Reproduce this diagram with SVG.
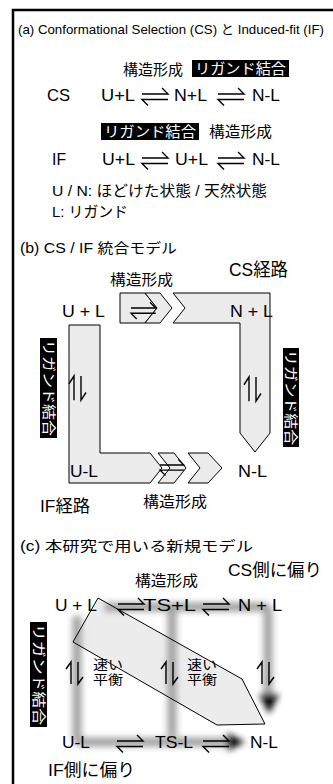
<svg xmlns="http://www.w3.org/2000/svg" width="333" height="784" viewBox="0 0 333 784">
<style>
.t{font-family:"Liberation Sans","Noto Sans CJK JP",sans-serif;fill:#000}
.w{font-family:"Liberation Sans","Noto Sans CJK JP",sans-serif;fill:#fff}
.h{fill:none;stroke:#000;stroke-width:1.4}
.band{fill:#ebebeb;stroke:#000;stroke-width:1}
.box{fill:#000}
.gb{fill:none;stroke:#a2a2a2;stroke-width:9;stroke-linejoin:round}
</style>
<defs>
<path id="eq" d="M0,0 H26 L20,-6 M26,5.5 H0 L6,11.5"/>
<path id="ud" d="M5,22 V0 L0,7 M12,0 V22 L17,15"/>
<filter id="blur" filterUnits="userSpaceOnUse" x="0" y="0" width="333" height="784"><feGaussianBlur stdDeviation="3"/></filter>
</defs>
<rect x="13" y="10" width="340" height="800" fill="#fff" stroke="#000" stroke-width="2.5"/>

<!-- (a) -->
<g id="title-a"><text class="t" x="18" y="34" font-size="12.8" textLength="306" lengthAdjust="spacingAndGlyphs">(a) Conformational Selection (CS) と Induced-fit (IF)</text></g>
<g id="cs-labels">
<text class="t" x="123" y="75" font-size="15" textLength="60" lengthAdjust="spacingAndGlyphs">構造形成</text>
<rect class="box" x="192" y="60" width="97" height="17"/>
<text class="w" x="195" y="74" font-size="14.5" textLength="91" lengthAdjust="spacingAndGlyphs">リガンド結合</text>
</g>
<g id="cs-row" font-size="17">
<text class="t" x="47" y="101" textLength="23" lengthAdjust="spacingAndGlyphs">CS</text>
<text class="t" x="101" y="101" textLength="34" lengthAdjust="spacingAndGlyphs">U+L</text>
<text class="t" x="174" y="101" textLength="33" lengthAdjust="spacingAndGlyphs">N+L</text>
<text class="t" x="252" y="101" textLength="28" lengthAdjust="spacingAndGlyphs">N-L</text>
</g>
<g id="if-labels">
<rect class="box" x="101" y="123" width="98" height="17"/>
<text class="w" x="104" y="137" font-size="14.5" textLength="92" lengthAdjust="spacingAndGlyphs">リガンド結合</text>
<text class="t" x="209" y="137" font-size="15" textLength="63" lengthAdjust="spacingAndGlyphs">構造形成</text>
</g>
<g id="if-row" font-size="17">
<text class="t" x="52" y="165" textLength="14" lengthAdjust="spacingAndGlyphs">IF</text>
<text class="t" x="102" y="165" textLength="33" lengthAdjust="spacingAndGlyphs">U+L</text>
<text class="t" x="175" y="165" textLength="33" lengthAdjust="spacingAndGlyphs">U+L</text>
<text class="t" x="252" y="165" textLength="28" lengthAdjust="spacingAndGlyphs">N-L</text>
</g>
<g id="legend" font-size="15">
<text class="t" x="52" y="196" textLength="215" lengthAdjust="spacingAndGlyphs">U / N: ほどけた状態 / 天然状態</text>
<text class="t" x="52" y="217" textLength="76" lengthAdjust="spacingAndGlyphs">L: リガンド</text>
</g>

<!-- (b) -->
<g id="title-b"><text class="t" x="20" y="253" font-size="14" textLength="157" lengthAdjust="spacingAndGlyphs">(b) CS / IF 統合モデル</text></g>
<g id="cs-path">
<polygon class="band" points="120,293 145,293 157,308 145,323 120,323"/>
<polygon class="band" points="145,293 160,293 172,308 160,323 145,323 157,308"/>
<polygon class="band" points="173,293 270,293 270,433 255,452 240,433 240,323 173,323 185,308"/>
<text class="t" x="229" y="276" font-size="18" textLength="59" lengthAdjust="spacingAndGlyphs">CS経路</text>
<text class="t" x="110" y="285" font-size="15" textLength="63" lengthAdjust="spacingAndGlyphs">構造形成</text>
</g>
<g id="if-path">
<polygon class="band" points="69,325 100,325 100,453 150,453 162,468 150,483 69,483"/>
<polygon class="band" points="158,453 174,453 186,468 174,483 158,483 170,468"/>
<polygon class="band" points="188,453 208,453 222,468 208,483 188,483 200,468"/>
<text class="t" x="40" y="512" font-size="17" textLength="50" lengthAdjust="spacingAndGlyphs">IF経路</text>
<text class="t" x="143" y="507" font-size="15" textLength="64" lengthAdjust="spacingAndGlyphs">構造形成</text>
</g>
<g id="b-nodes" font-size="17">
<text class="t" x="62" y="317" textLength="43" lengthAdjust="spacingAndGlyphs">U + L</text>
<text class="t" x="230" y="317" textLength="43" lengthAdjust="spacingAndGlyphs">N + L</text>
<text class="t" x="70" y="477" textLength="28" lengthAdjust="spacingAndGlyphs">U-L</text>
<text class="t" x="238" y="477" textLength="29" lengthAdjust="spacingAndGlyphs">N-L</text>
</g>
<g id="b-binding">
<rect class="box" x="40" y="338" width="17" height="100"/>
<text class="w" transform="translate(43.5,340) rotate(90)" font-size="14" textLength="96" lengthAdjust="spacingAndGlyphs">リガンド結合</text>
<rect class="box" x="283" y="348" width="16" height="99"/>
<text class="w" transform="translate(286,350) rotate(90)" font-size="14" textLength="95" lengthAdjust="spacingAndGlyphs">リガンド結合</text>
</g>

<!-- (c) -->
<g id="title-c"><text class="t" x="20" y="551" font-size="14" textLength="233" lengthAdjust="spacingAndGlyphs">(c) 本研究で用いる新規モデル</text></g>
<g id="new-path">
<polygon points="98,598 242,679 265,724 217,725 73,642" fill="#ececec"/>
<g filter="url(#blur)">
<path class="gb" d="M105,607 H262 Q268,607 268,613 V698"/>
<path class="gb" d="M77,616 V736 Q77,742 83,742 H228"/>
<path class="gb" d="M172,610 V736"/>
<polygon points="259,694 279,694 269,714" fill="#000"/>
<polygon points="227,733 227,751 245,742" fill="#000"/>
</g>
<polygon points="98,598 242,679 265,724 217,725 73,642" fill="none" stroke="#000" stroke-width="1"/>
</g>
<g id="c-labels">
<text class="t" x="228" y="576" font-size="17" textLength="94" lengthAdjust="spacingAndGlyphs">CS側に偏り</text>
<text class="t" x="135" y="586" font-size="15" textLength="63" lengthAdjust="spacingAndGlyphs">構造形成</text>
<text class="t" x="48" y="776" font-size="17" textLength="87" lengthAdjust="spacingAndGlyphs">IF側に偏り</text>
<text class="t" x="93" y="669" font-size="13" textLength="30" lengthAdjust="spacingAndGlyphs">速い</text>
<text class="t" x="93" y="684" font-size="13" textLength="30" lengthAdjust="spacingAndGlyphs">平衡</text>
<text class="t" x="187" y="669" font-size="13" textLength="30" lengthAdjust="spacingAndGlyphs">速い</text>
<text class="t" x="187" y="684" font-size="13" textLength="30" lengthAdjust="spacingAndGlyphs">平衡</text>
<rect class="box" x="30" y="622" width="17" height="105"/>
<text class="w" transform="translate(33.5,624) rotate(90)" font-size="14" textLength="101" lengthAdjust="spacingAndGlyphs">リガンド結合</text>
</g>
<g id="c-nodes" font-size="17">
<text class="t" x="55" y="611" textLength="42" lengthAdjust="spacingAndGlyphs">U + L</text>
<text class="t" x="143" y="611" textLength="53" lengthAdjust="spacingAndGlyphs">TS+L</text>
<text class="t" x="238" y="611" textLength="44" lengthAdjust="spacingAndGlyphs">N + L</text>
<text class="t" x="62" y="748" textLength="28" lengthAdjust="spacingAndGlyphs">U-L</text>
<text class="t" x="155" y="748" textLength="38" lengthAdjust="spacingAndGlyphs">TS-L</text>
<text class="t" x="250" y="748" textLength="28" lengthAdjust="spacingAndGlyphs">N-L</text>
</g>

<g id="connectors" class="h">
<use href="#eq" x="142" y="94"/>
<use href="#eq" x="218" y="94"/>
<use href="#eq" x="142" y="158"/>
<use href="#eq" x="218" y="158"/>
<use href="#eq" transform="translate(131,308) scale(0.95)"/>
<use href="#eq" transform="translate(160,465) scale(0.92)"/>
<use href="#ud" transform="translate(69,376) scale(1,1.1)"/>
<use href="#ud" transform="translate(244,377) scale(1,1.1)"/>
<use href="#eq" x="118" y="604"/>
<use href="#eq" x="203" y="604"/>
<use href="#eq" x="117" y="741"/>
<use href="#eq" x="203" y="741"/>
<use href="#ud" x="66" y="662"/>
<use href="#ud" x="161" y="662"/>
<use href="#ud" x="257" y="662"/>
</g>
</svg>
